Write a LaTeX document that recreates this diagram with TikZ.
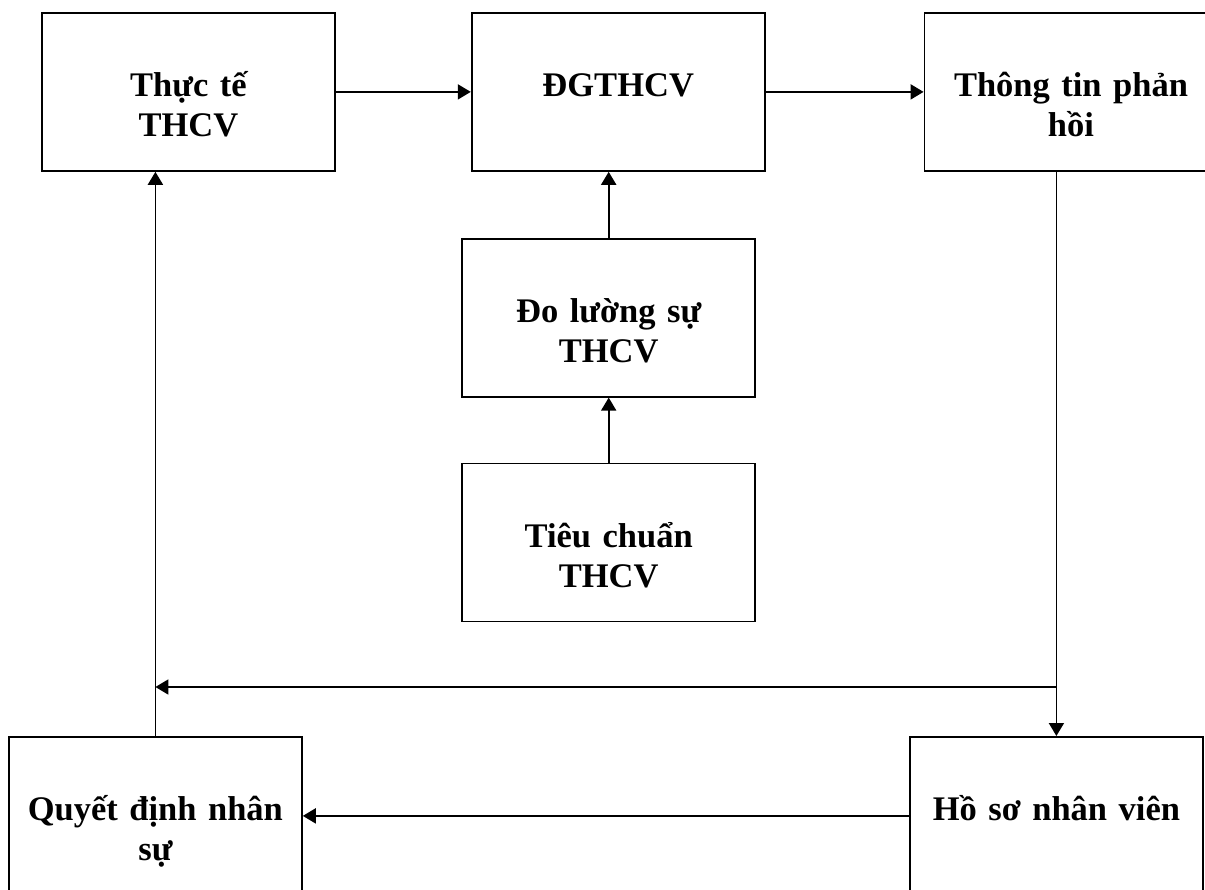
\documentclass[tikz,border=0pt]{standalone}
\usepackage{fontspec}
\setmainfont{Liberation Serif}
\usetikzlibrary{arrows.meta}
\usetikzlibrary{positioning}

\begin{document}
\begin{tikzpicture}[x=1pt, y=-1pt, >={Triangle[length=13pt, width=15pt]}]
	\tikzstyle{main}=[rectangle, draw=black, line width=1.8pt, inner sep=0pt, minimum width=293pt, text width=293pt, align=center, text height=84pt, text depth=74pt, font=\fontsize{34.5}{39.5}\selectfont\bfseries]
	\tikzstyle{connect}=[->, line width=1.8pt]
	
	\useasboundingbox (0,0) rectangle (1205,890);
	\clip (0,0) rectangle (1205,890);
	
	\node[main, anchor=north west] (thucte) at (41,12) {Thực tế\\THCV};
	\node[main] (dg) [right=135pt of thucte] {ĐGTHCV};
	\node[main] (thongtin) [right=158pt of dg] {Thông tin phản\\hồi};
	
	\node[main, xshift=-9.5pt] (doluong) [below=66pt of dg] {Đo lường sự\\THCV};
	\node[main] (tieuchuan) [below=65pt of doluong] {Tiêu chuẩn\\THCV};
	
	\node[main, anchor=north west] (quyet) at (8,736) {Quyết định nhân\\sự};
	\node[main, anchor=north west] (hoso) at (909,736) {Hồ sơ nhân viên};
	
	\coordinate[above=49pt of hoso.north] (split);
	\coordinate (join) at (split -| quyet.north);
	
	\draw[connect] (thucte.east) -- (dg.west);
	\draw[connect] (dg.east) -- (thongtin.west);
	
	\draw[connect] (doluong.north) -- (doluong.north |- dg.south);
	\draw[connect] (tieuchuan.north) -- (doluong.south);
	
	\draw[connect] (thongtin.south -| hoso.north) -- (hoso.north);
	\draw[connect] (split) -- (join);
	\draw[connect] (quyet.north) -- (quyet.north |- thucte.south);
	\draw[connect] (hoso.west) -- (quyet.east);
	
\end{tikzpicture}
\end{document}
